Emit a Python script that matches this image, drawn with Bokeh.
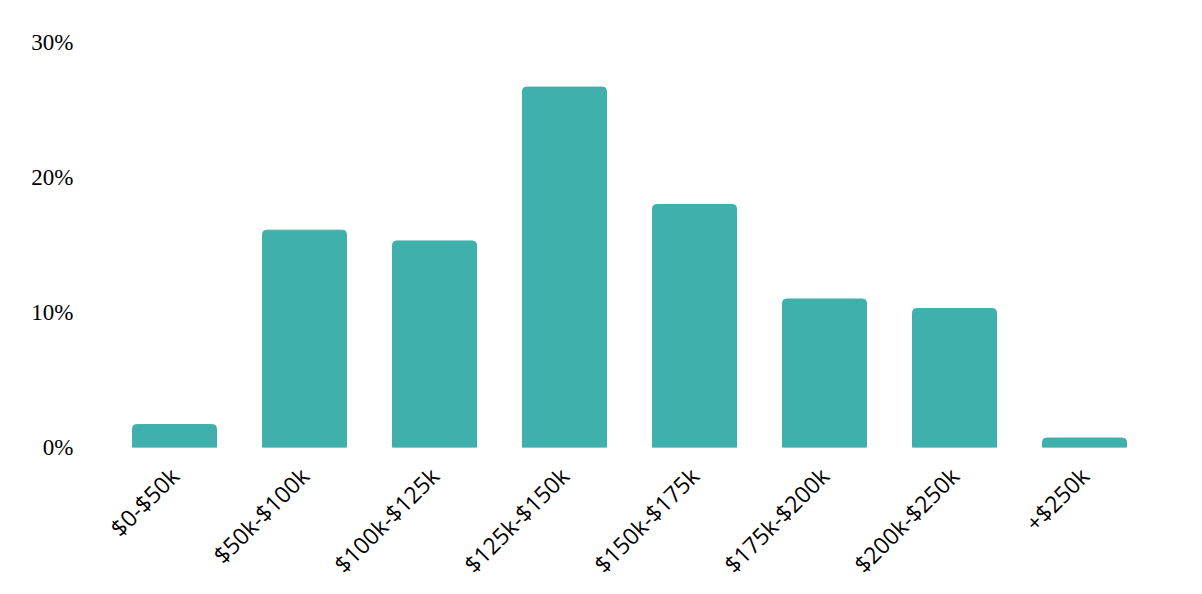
from bokeh.plotting import figure
from bokeh.models import Range1d, FixedTicker, PrintfTickFormatter, ColumnDataSource
from bokeh.embed import file_html
from bokeh.resources import INLINE
import math

categories = ["$0-$50k", "$50k-$100k", "$100k-$125k", "$125k-$150k",
              "$150k-$175k", "$175k-$200k", "$200k-$250k", "+$250k"]
shares = [1.7, 16.1, 15.3, 26.7, 18.0, 11.0, 10.3, 0.7]
y_ticks = [0, 10, 20, 30]

src = ColumnDataSource(dict(cat=categories, val=shares))

p = figure(x_range=categories, y_range=Range1d(0, 30), width=1186, height=593,
           output_backend="svg", toolbar_location=None,
           min_border_left=109, min_border_top=42, min_border_right=37, min_border_bottom=146)

p.vbar(x="cat", top="val", width=0.646, source=src, color="#40B0AC",
       border_radius=(4, 4, 0, 0))

p.outline_line_color = None
p.xgrid.grid_line_color = None
p.ygrid.grid_line_color = None

p.yaxis.ticker = FixedTicker(ticks=y_ticks)
p.yaxis.formatter = PrintfTickFormatter(format="%d%%")
p.yaxis.axis_line_color = None
p.yaxis.major_tick_line_color = None
p.yaxis.minor_tick_line_color = None
p.yaxis.major_tick_in = 0
p.yaxis.major_tick_out = 0
p.yaxis.major_label_standoff = 36
p.yaxis.major_label_text_font = "Liberation Serif"
p.yaxis.major_label_text_font_size = "23px"
p.yaxis.major_label_text_color = "#000000"

p.xaxis.axis_line_color = None
p.xaxis.major_tick_line_color = None
p.xaxis.minor_tick_line_color = None
p.xaxis.major_tick_in = 0
p.xaxis.major_tick_out = 0
p.xaxis.major_label_standoff = 24
p.xaxis.major_label_orientation = math.pi / 4
p.xaxis.major_label_text_font = "Open Sans"
p.xaxis.major_label_text_font_size = "23px"
p.xaxis.major_label_text_color = "#000000"

open("out.html", "w").write(file_html(p, INLINE))
